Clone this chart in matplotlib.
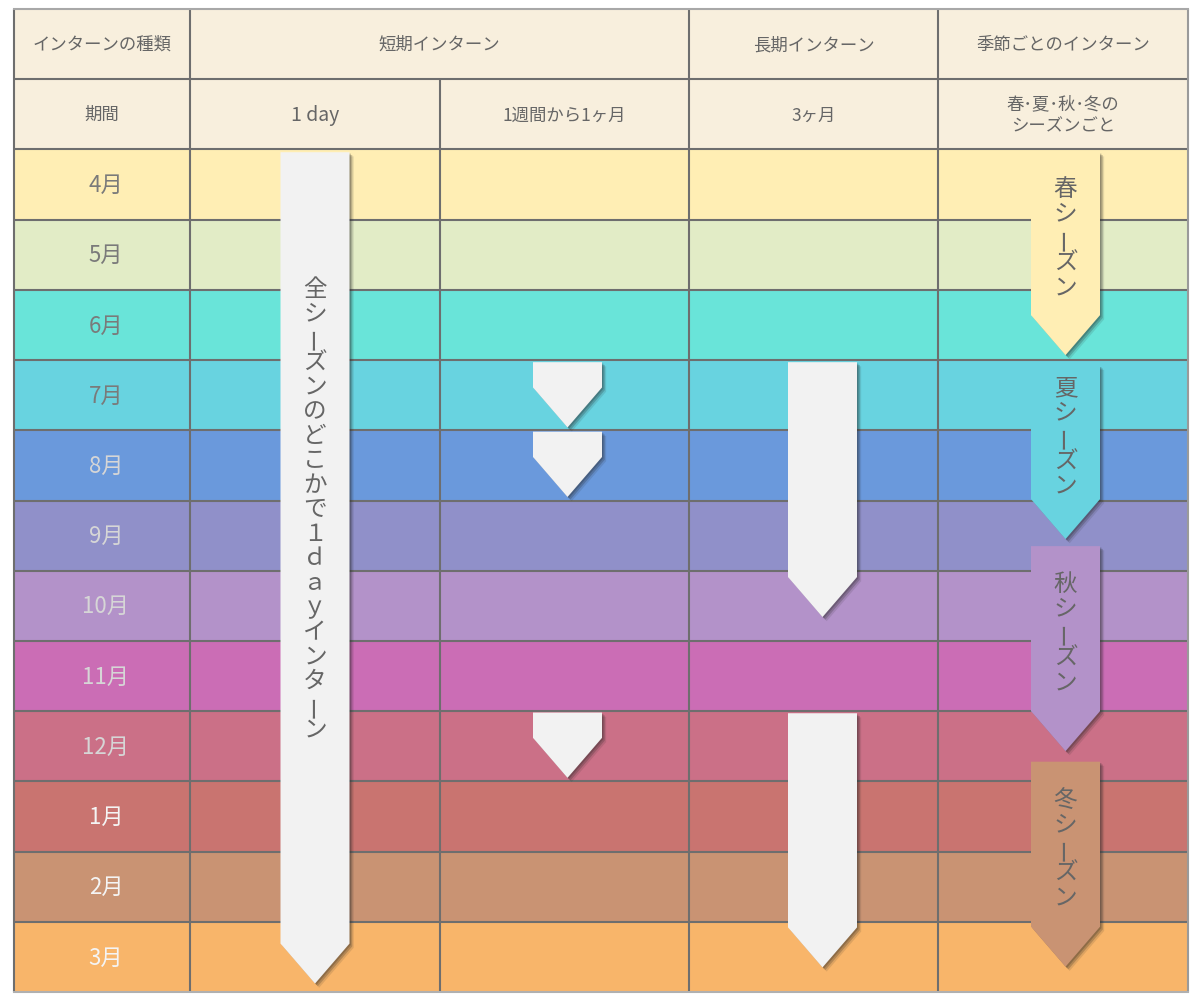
import matplotlib
matplotlib.use("Agg")
import matplotlib.pyplot as plt
from matplotlib.patches import Polygon, Rectangle
import matplotlib.patheffects as pe

plt.rcParams['font.family'] = ['Noto Sans CJK JP', 'DejaVu Sans']

# ---------------- data ----------------
months = ["4月", "5月", "6月", "7月", "8月", "9月", "10月", "11月", "12月", "1月", "2月", "3月"]
month_colors = ["#FFEEB4", "#E2ECC6", "#69E4D9", "#68D3E0", "#6A99DC", "#9090C9",
                "#B392C9", "#CB6DB5", "#CB7087", "#C97470", "#C99373", "#F8B56A"]
month_text_colors = ["#7a7a7a"] * 4 + ["#d6d6d6"] * 5 + ["#f4f4f4"] * 3

header_row1 = ["インターンの種類", "短期インターン", "長期インターン", "季節ごとのインターン"]
header_row1_span = [(0, 1), (1, 3), (3, 4), (4, 5)]
header_row2 = ["期間", "1 day", "1週間から1ヶ月", "3ヶ月", "春･夏･秋･冬の\nシーズンごと"]

# arrows: (column index, start position, tip position) in month-row units (0 = top of 4月)
day_arrows = [(1, 0.04, 11.88)]
week_arrows = [(2, 3.03, 3.96), (2, 4.02, 4.95), (2, 8.02, 8.95)]
long_arrows = [(3, 3.03, 6.66), (3, 8.03, 11.65)]
season_arrows = [(4, 0.04, 2.93), (4, 3.08, 5.55), (4, 5.65, 8.57), (4, 8.72, 11.64)]
season_labels = ["春シーズン", "夏シーズン", "秋シーズン", "冬シーズン"]
season_colors = ["#FFEEB4", "#68D3E0", "#B392C9", "#C99373"]
day_label = "全シーズンのどこかで１ｄａｙインターン"

# ---------------- layout ----------------
W, H = 1200, 1003
col_edges = [14, 190, 440, 689, 938, 1188]
arrow_shift = [0, 0, 3, 9, 2.5]
top = 10
row_h = (993 - 10) / 14.0
header_bg = "#F8EFDD"
line_col = "#6e6e6e"
text_col = "#666666"
arrow_w = 69
head_len = 40
arrow_fill = "#F2F2F2"
char_step = 24.5
vfont = 17

fig = plt.figure(figsize=(W / 100, H / 100), dpi=100)
ax = fig.add_axes([0, 0, 1, 1])
ax.set_xlim(0, W)
ax.set_ylim(H, 0)
ax.axis("off")


def ry(pos):
    return top + (2 + pos) * row_h


# header backgrounds
ax.add_patch(Rectangle((col_edges[0], top), col_edges[-1] - col_edges[0], 2 * row_h,
                       facecolor=header_bg, edgecolor="none", zorder=0))
# month rows
for i, (m, c, tc) in enumerate(zip(months, month_colors, month_text_colors)):
    ax.add_patch(Rectangle((col_edges[0], ry(i)), col_edges[-1] - col_edges[0], row_h,
                           facecolor=c, edgecolor="none", zorder=0))
    ax.text((col_edges[0] + col_edges[1]) / 2 + 4, ry(i + 0.5), m, ha="center", va="center",
            fontsize=16, color=tc, zorder=2)

# header texts
for txt, (a, b) in zip(header_row1, header_row1_span):
    ax.text((col_edges[a] + col_edges[b]) / 2, top + 0.5 * row_h, txt, ha="center",
            va="center", fontsize=12.5, color=text_col, zorder=2)
for j, txt in enumerate(header_row2):
    fs = 14 if txt.startswith("1 day") else 12.5
    ax.text((col_edges[j] + col_edges[j + 1]) / 2, top + 1.5 * row_h, txt, ha="center",
            va="center", fontsize=fs, color=text_col, zorder=2, linespacing=1.25)

# grid lines
lw = 1.5
for k in range(1, 14):
    y = top + k * row_h
    ax.plot([col_edges[0], col_edges[-1]], [y, y], color=line_col, lw=lw, zorder=1,
            solid_capstyle="butt")
for j, x in enumerate(col_edges):
    y0 = top
    if j == 2:
        y0 = top + row_h
    c = line_col if j < len(col_edges) - 1 else "#9a9a9a"
    ax.plot([x, x], [y0, top + 14 * row_h], color=c, lw=lw, zorder=1, solid_capstyle="butt")
ax.plot([col_edges[0], col_edges[-1]], [top, top], color="#a8a8a8", lw=lw, zorder=1)
ax.plot([col_edges[0], col_edges[-1]], [top + 14 * row_h, top + 14 * row_h], color="#b0b0b0",
        lw=lw, zorder=1)

shadow = [pe.SimplePatchShadow(offset=(3, -3), shadow_rgbFace="#222222", alpha=0.12),
          pe.SimplePatchShadow(offset=(2, -2), shadow_rgbFace="#222222", alpha=0.22),
          pe.SimplePatchShadow(offset=(1, -1), shadow_rgbFace="#222222", alpha=0.25),
          pe.Normal()]


def draw_arrow(col, start, tip, face):
    cx = (col_edges[col] + col_edges[col + 1]) / 2 + arrow_shift[col]
    y0 = ry(start)
    y2 = ry(tip)
    y1 = y2 - head_len
    pts = [(cx - arrow_w / 2, y0), (cx + arrow_w / 2, y0), (cx + arrow_w / 2, y1),
           (cx, y2), (cx - arrow_w / 2, y1)]
    p = Polygon(pts, closed=True, facecolor=face, edgecolor="none", zorder=3)
    p.set_path_effects(shadow)
    ax.add_patch(p)
    return cx, y0, y1


def vertical_text(cx, cy, s):
    n = len(s)
    first = cy - (n - 1) * char_step / 2
    for k, ch in enumerate(s):
        y = first + k * char_step
        rot = 0
        if ch == "ー":
            rot = 90
        ax.text(cx, y, ch, ha="center", va="center", fontsize=vfont, color="#666666",
                rotation=rot, zorder=4)


for col, s, t in day_arrows:
    cx, y0, y1 = draw_arrow(col, s, t, arrow_fill)
    vertical_text(cx, ry(5.12), day_label)
for col, s, t in week_arrows + long_arrows:
    draw_arrow(col, s, t, arrow_fill)
for (col, s, t), lab, c in zip(season_arrows, season_labels, season_colors):
    cx, y0, y1 = draw_arrow(col, s, t, c)
    vertical_text(cx, (y0 + y1) / 2 + 4, lab)

fig.savefig("out.png", dpi=100)
